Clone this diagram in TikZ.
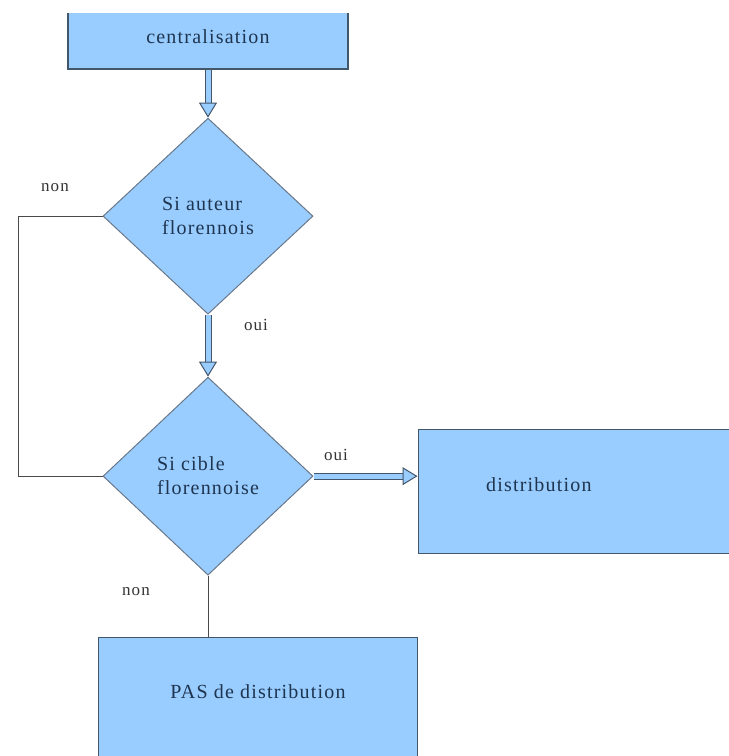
\documentclass[tikz,border=0pt]{standalone}
\usepackage{fontspec}
\setmainfont[LetterSpace=6]{Liberation Serif}
\usepackage{xcolor}
\usepackage{tikz}
\usetikzlibrary{arrows.meta,positioning,shapes.geometric}
\definecolor{BoxBlue}{HTML}{99CCFF}
\definecolor{EdgeGray}{HTML}{44566A}
\definecolor{LinkGray}{HTML}{4A4A4A}
\definecolor{InkBlue}{HTML}{1E3550}

\begin{document}
\begin{tikzpicture}[
    x=1pt, y=-1pt,
    font=\fontsize{20}{24}\selectfont, text=InkBlue,
    boxstep/.style={draw=EdgeGray, line width=1.3pt, fill=BoxBlue, align=center},
    test/.style={draw=EdgeGray!80, line width=1pt, fill=BoxBlue, diamond, align=left, inner sep=0pt, minimum width=210pt, minimum height=196pt},
    dbl/.style={draw=EdgeGray, line width=1pt, double=BoxBlue, double distance=5pt, -{Triangle[open, length=15pt, width=18pt, fill=BoxBlue]}},
    link/.style={draw=LinkGray, line width=1pt},
    tag/.style={font=\fontsize{17}{20}\selectfont, text=black!80}
]
\useasboundingbox (0,0) rectangle (729,756);
\clip (0,13) rectangle (729,756);

\node[boxstep, minimum width=280pt, minimum height=64pt] (cent) at (208,37) {centralisation};
\node[test, below=48pt of cent] (q1) {Si auteur\\florennois};
\node[test, below=62pt of q1, minimum height=198pt] (q2) {Si cible\\florennoise};

% boites a droite et en bas (coupees par le bord)
\node[boxstep, right=104pt of q2, yshift=-15pt, minimum height=124pt, text width=220pt, align=left, inner xsep=68pt, text depth=14pt] (dist) {distribution};
\node[boxstep, below=61pt of q2, xshift=50pt, minimum width=319pt, minimum height=130pt, text depth=22pt] (pas) {PAS de distribution};

\coordinate (loop) at (18,0);

\node[tag] (non1) at (55,188) {non};
\node[tag] (oui1) at (256,325) {oui};
\node[tag] (oui2) at (336,455) {oui};
\node[tag] (non2) at (136,592) {non};

\draw[dbl] (cent) -- (q1);
\draw[dbl] (q1) -- (q2);
\draw[dbl] (q2.east) -- (q2.east -| dist.west);
\draw[link] (q1.west) -- (q1.west -| loop) -- (q2.west -| loop) -- (q2.west);
\draw[link] (q2.south) -- (q2.south |- pas.north);
\end{tikzpicture}
\end{document}
